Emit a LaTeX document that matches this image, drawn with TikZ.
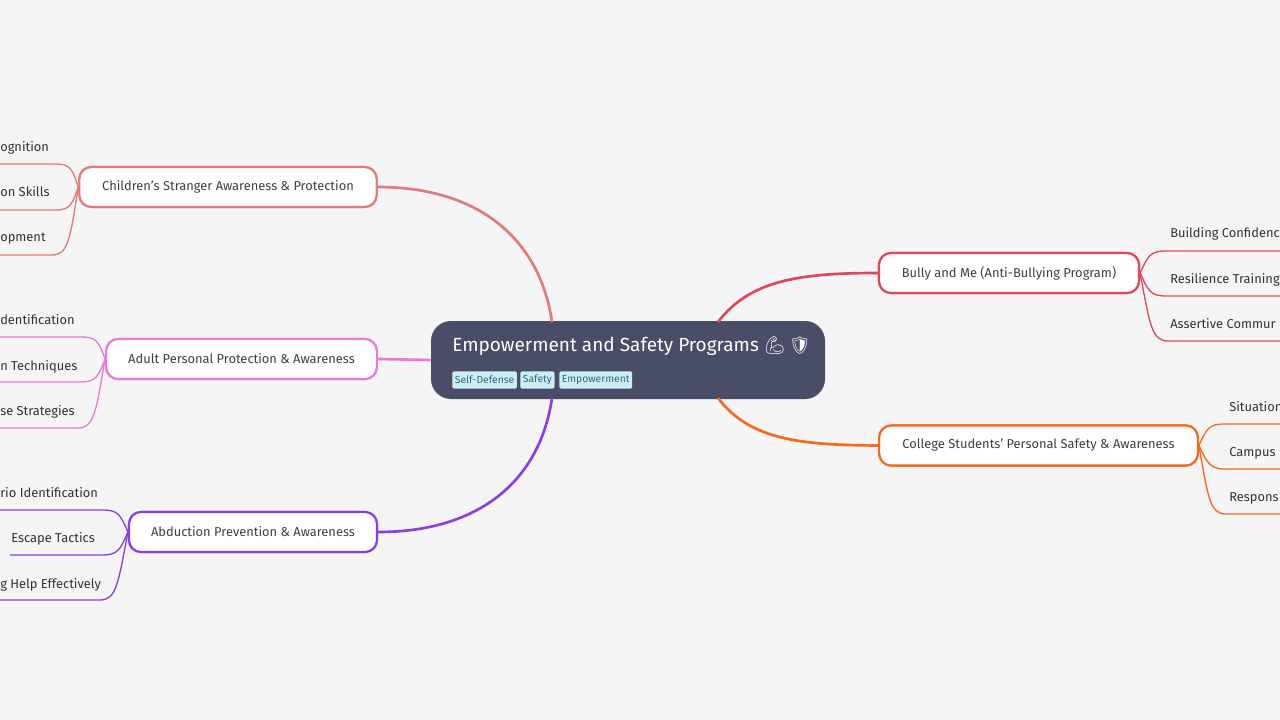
\documentclass[tikz,border=0pt]{standalone}
\usepackage{fontspec}
\setmainfont{Fira Sans}[Scale=0.92]
\newfontfamily\emo{Noto Emoji}
\begin{document}
\begin{tikzpicture}[x=0.75pt,y=-0.75pt,
  box/.style={draw=#1,line width=1.6pt,rounded corners=9pt,fill=white,minimum height=30pt,font=\fontsize{10.5}{12}\selectfont,text=black!75,inner xsep=12pt},
  leaf/.style={anchor=base west,font=\fontsize{10.5}{12}\selectfont,text=black!80,inner sep=0pt},
  tag/.style={fill=tagc,text=tagt,rounded corners=1.5pt,font=\fontsize{8.4}{9}\selectfont,inner sep=2pt,anchor=west,minimum height=13pt},
  con/.style={line width=2pt,#1},
  lc/.style={line width=1pt,#1}]
\definecolor{bg}{HTML}{F5F5F5}
\definecolor{cen}{HTML}{4A4D68}
\definecolor{tagc}{HTML}{CDEEF5}
\definecolor{tagt}{HTML}{2E6B7A}
\definecolor{cA}{HTML}{E07B7B}
\definecolor{cB}{HTML}{E97AD8}
\definecolor{cC}{HTML}{8A3EE8}
\definecolor{cD}{HTML}{E0485A}
\definecolor{cE}{HTML}{F56A1C}
\fill[bg] (0,0) rectangle (1280,720);
\useasboundingbox (0,0) rectangle (1280,720);
\clip (0,0) rectangle (1280,720);
% center
\node[fill=cen,rounded corners=15pt,minimum width=295.5pt,minimum height=58.5pt,inner sep=0pt] (c) at (628,360) {};
\node[anchor=west,text=white,font=\fontsize{15.5}{18}\selectfont,inner sep=0pt] (ct) at (452,346) {Empowerment and Safety Programs {\emo\fontsize{13}{14}\selectfont 💪\,🛡}};
\node[tag] (t1) at (452,380) {Self-Defense};
\node[tag] (t2) at (520,380) {Safety};
\node[tag] (t3) at (559,380) {Empowerment};
% branches
\node[box=cA,minimum width=223pt] (A) at (228,187) {Children's Stranger Awareness \& Protection};
\node[box=cB,minimum width=203pt] (B) at (241.5,359) {Adult Personal Protection \& Awareness};
\node[box=cC,minimum width=186pt] (C) at (253,532) {Abduction Prevention \& Awareness};
\node[box=cD,minimum width=195pt] (D) at (1009,273) {Bully and Me (Anti-Bullying Program)};
\node[box=cE,minimum width=239pt] (E) at (1038.5,445.5) {College Students' Personal Safety \& Awareness};
\coordinate (ca) at (552,322);
\coordinate (cc) at (552,398);
\coordinate (cd) at (718,322);
\coordinate (ce) at (718,398);
\draw[con=cA] (ca) .. controls (540,240) and (480,187) .. (A.east);
\draw[con=cB] (c.west) -- (B.east);
\draw[con=cC] (cc) .. controls (540,480) and (480,532) .. (C.east);
\draw[con=cD] (cd) .. controls (750,280) and (800,273) .. (D.west);
\draw[con=cE] (ce) .. controls (750,440) and (800,445) .. (E.west);
% left leaves
\node[leaf] at (0,152) {ognition};
\node[leaf] at (0,197) {on Skills};
\node[leaf] at (0,242) {opment};
\coordinate (a1) at (0,164);\coordinate (a2) at (0,210);\coordinate (a3) at (0,255);
\draw[lc=cA] (A.west) .. controls (72,168) and (70,164) .. (55,164) -- (a1);
\draw[lc=cA] (A.west) .. controls (72,205) and (70,210) .. (55,210) -- (a2);
\draw[lc=cA] (A.west) .. controls (70,240) and (68,255) .. (52,255) -- (a3);
\node[leaf] at (0,324) {dentification};
\node[leaf] at (0,370) {n Techniques};
\node[leaf] at (0,415) {se Strategies};
\coordinate (b1) at (0,337);\coordinate (b2) at (0,382);\coordinate (b3) at (0,428);
\draw[lc=cB] (B.west) .. controls (98,340) and (96,337) .. (80,337) -- (b1);
\draw[lc=cB] (B.west) .. controls (98,377) and (96,382) .. (80,382) -- (b2);
\draw[lc=cB] (B.west) .. controls (96,412) and (94,428) .. (78,428) -- (b3);
\node[leaf] at (0,497) {rio Identification};
\node[leaf] at (11,542) {Escape Tactics};
\node[leaf] at (0,588) {g Help Effectively};
\coordinate (d1) at (0,510);\coordinate (d2) at (10,555);\coordinate (d3) at (0,600);
\draw[lc=cC] (C.west) .. controls (120,514) and (118,510) .. (102,510) -- (d1);
\draw[lc=cC] (C.west) .. controls (120,550) and (118,555) .. (102,555) -- (d2);
\draw[lc=cC] (C.west) .. controls (118,585) and (116,600) .. (100,600) -- (d3);
% right leaves
\node[leaf] at (1170,238) {Building Confidenc};
\node[leaf] at (1170,283) {Resilience Training};
\node[leaf] at (1170,328) {Assertive Commur};
\coordinate (e1) at (1280,251);\coordinate (e2) at (1280,296);\coordinate (e3) at (1280,341);
\draw[lc=cD] (D.east) .. controls (1148,256) and (1150,251) .. (1166,251) -- (e1);
\draw[lc=cD] (D.east) .. controls (1148,290) and (1150,296) .. (1166,296) -- (e2);
\draw[lc=cD] (D.east) .. controls (1150,326) and (1152,341) .. (1168,341) -- (e3);
\node[leaf] at (1229,411) {Situation};
\node[leaf] at (1229,456) {Campus};
\node[leaf] at (1229,501) {Respons};
\coordinate (f1) at (1280,424);\coordinate (f2) at (1280,469);\coordinate (f3) at (1280,514);
\draw[lc=cE] (E.east) .. controls (1207,428) and (1209,424) .. (1225,424) -- (f1);
\draw[lc=cE] (E.east) .. controls (1207,462) and (1209,469) .. (1225,469) -- (f2);
\draw[lc=cE] (E.east) .. controls (1208,498) and (1210,514) .. (1226,514) -- (f3);
% redraw boxes on top
\node[box=cA,minimum width=223pt] at (A) {Children's Stranger Awareness \& Protection};
\node[box=cB,minimum width=203pt] at (B) {Adult Personal Protection \& Awareness};
\node[box=cC,minimum width=186pt] at (C) {Abduction Prevention \& Awareness};
\node[box=cD,minimum width=195pt] at (D) {Bully and Me (Anti-Bullying Program)};
\node[box=cE,minimum width=239pt] at (E) {College Students' Personal Safety \& Awareness};
\end{tikzpicture}
\end{document}
